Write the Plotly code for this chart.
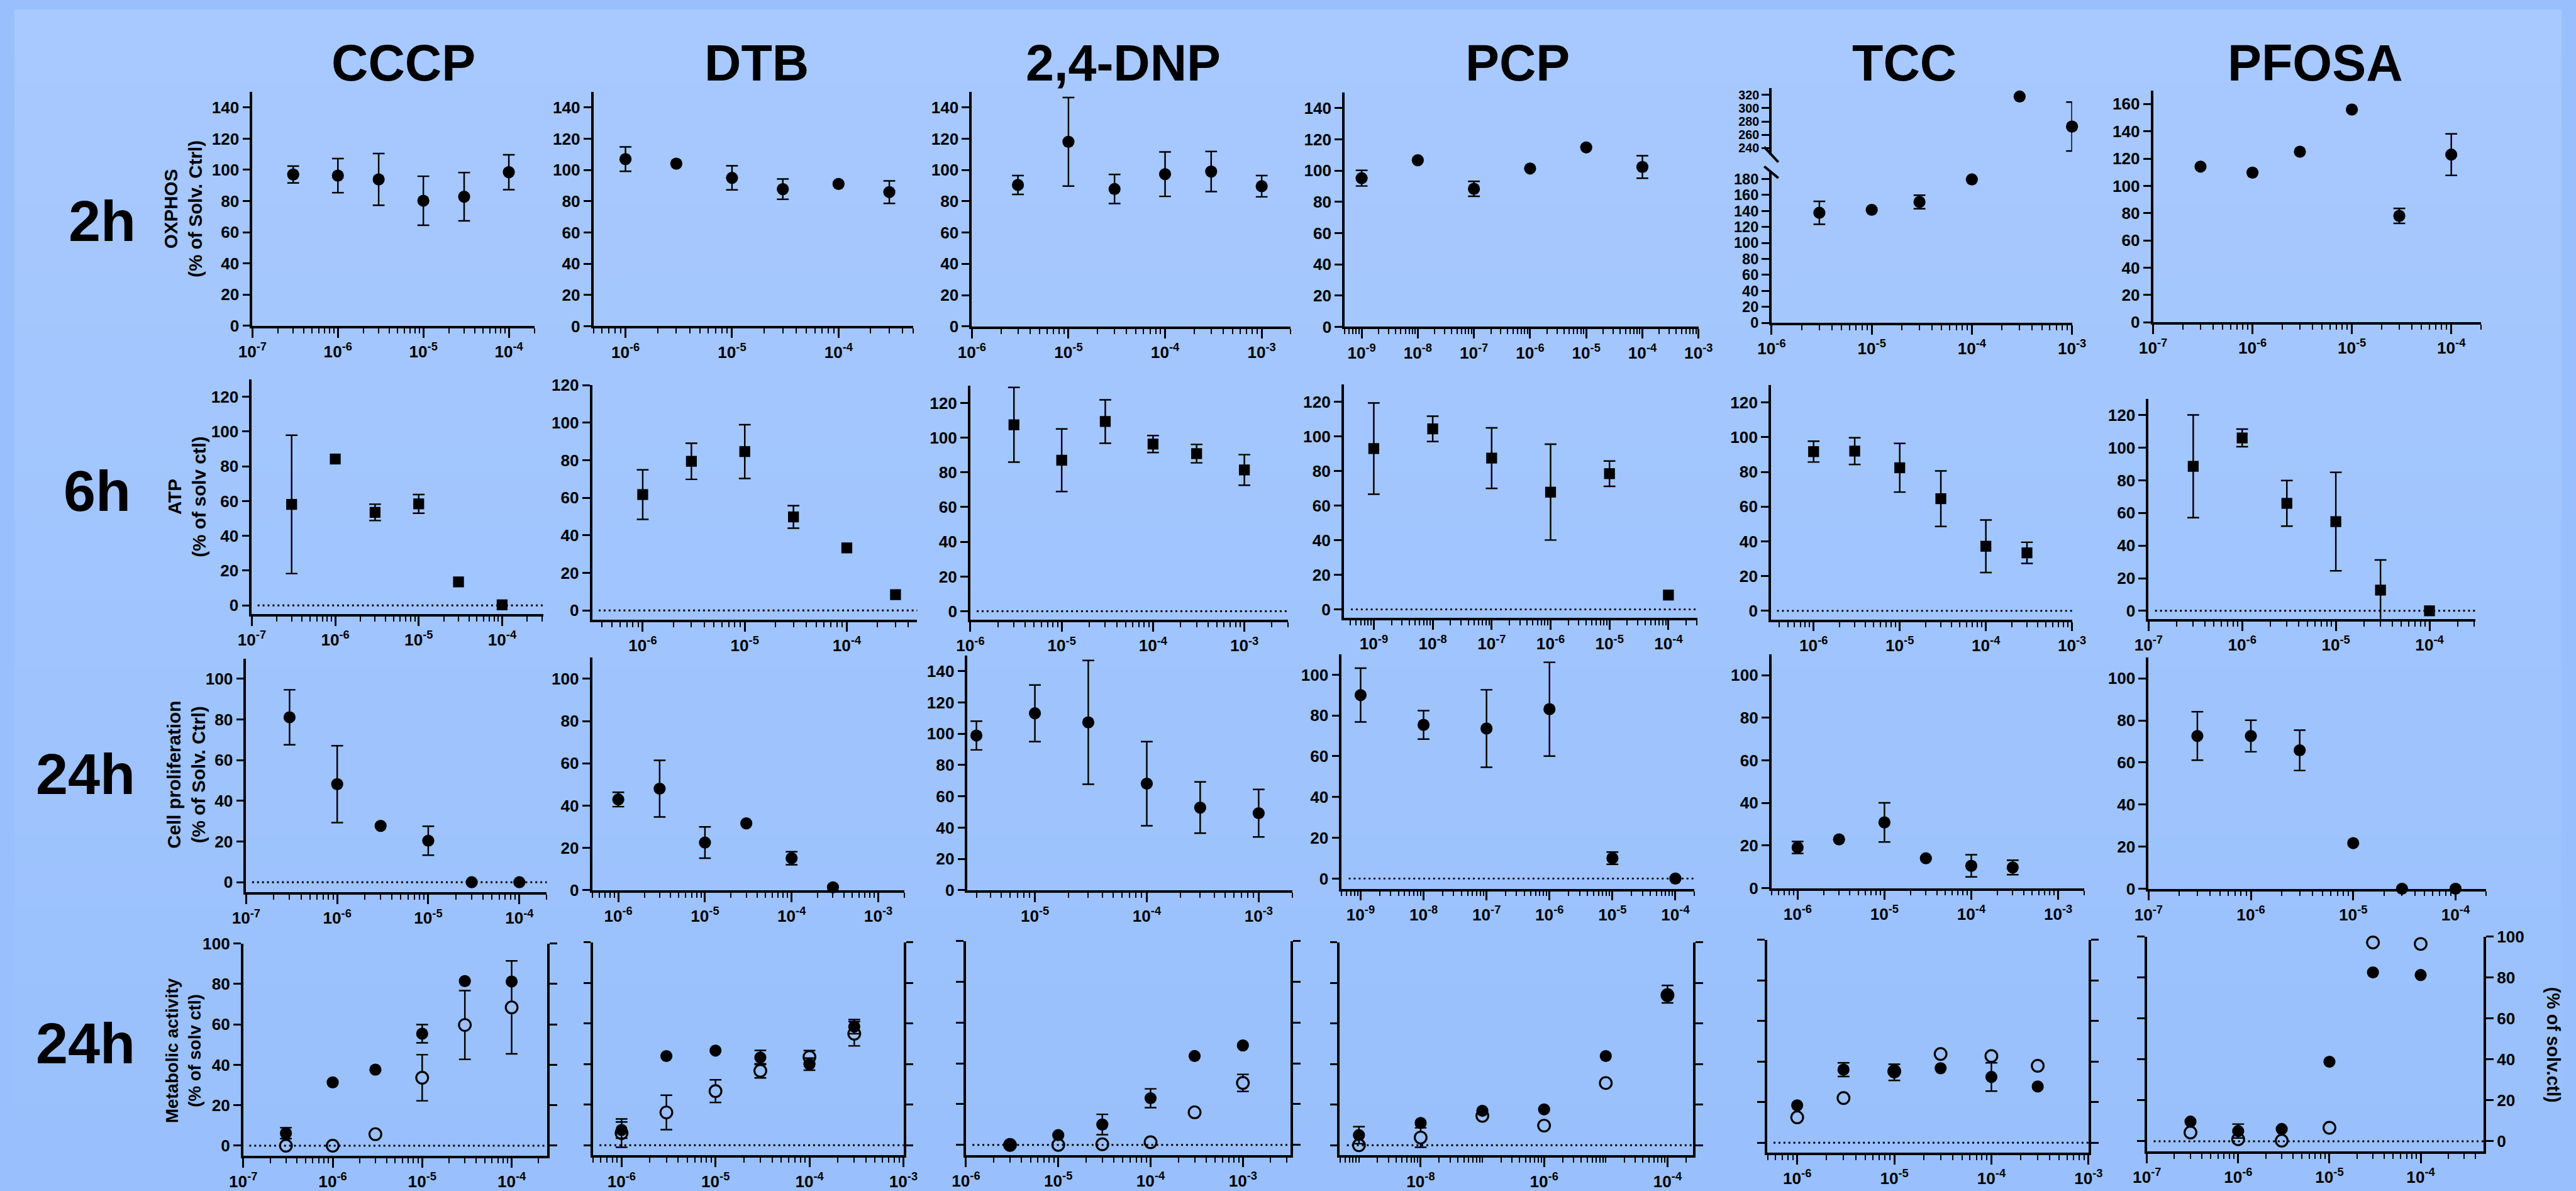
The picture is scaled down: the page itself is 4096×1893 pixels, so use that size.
import math
import plotly.graph_objects as go

W, H = 4153, 1919
S = 4096 / W
FONT = "Liberation Sans, Arial, Helvetica, sans-serif"

COMPOUNDS = ["CCCP", "DTB", "2,4-DNP", "PCP", "TCC", "PFOSA"]
ROW_LABELS = ["2h", "6h", "24h", "24h"]
Y_TITLES = ["OXPHOS<br>(% of Solv. Ctrl)", "ATP<br>(% of solv ctl)",
            "Cell proliferation<br>(% of Solv. Ctrl)", "Metabolic activity<br>(% of solv ctl)"]
RIGHT_TITLE = "(% of solv.ctl)"

C_A = [3e-7, 1e-6, 3e-6, 1e-5, 3e-5, 1e-4]
C_B = [1e-6, 3e-6, 1e-5, 3e-5, 1e-4, 3e-4]
C_C = [3e-6, 1e-5, 3e-5, 1e-4, 3e-4, 1e-3]
C_P = [1e-9, 1e-8, 1e-7, 1e-6, 1e-5, 1e-4]

# ---------------- 2h OXPHOS ----------------
OXPHOS_X = {"CCCP": C_A, "DTB": C_B, "2,4-DNP": C_C, "PCP": C_P, "TCC": C_C, "PFOSA": C_A}
OXPHOS_Y = {
    "CCCP": [97.0, 96.3, 93.9, 80.2, 82.8, 98.5],
    "DTB": [106.9, 104.0, 94.9, 87.7, 91.0, 85.8],
    "2,4-DNP": [90.4, 118.0, 87.8, 97.3, 99.0, 89.6],
    "PCP": [95.1, 106.6, 88.3, 101.3, 114.8, 102.3],
    "TCC": [137.7, 141.4, 151.3, 179.4, 317.6, 272.3],
    "PFOSA": [114.1, 109.7, 125.0, 155.9, 78.0, 122.9],
}
OXPHOS_ERR = {
    "CCCP": [5.4, 10.9, 16.6, 15.7, 15.5, 11.2],
    "DTB": [7.8, None, 7.7, 6.5, None, 7.2],
    "2,4-DNP": [6.0, 28.3, 9.3, 14.2, 12.8, 6.8],
    "PCP": [5.0, None, 4.8, None, None, 7.2],
    "TCC": [14.4, None, 8.5, None, None, 37.0],
    "PFOSA": [None, None, None, None, 5.5, 15.2],
}

# ---------------- 6h ATP ----------------
ATP_X = {"CCCP": C_A, "DTB": C_B, "2,4-DNP": C_C, "PCP": C_P, "TCC": C_B, "PFOSA": C_A}
ATP_Y = {
    "CCCP": [58.1, 84.2, 53.5, 58.4, 13.5, 0.3],
    "DTB": [61.7, 79.4, 84.6, 49.8, 33.3, 8.4],
    "2,4-DNP": [107.4, 87.0, 109.3, 96.3, 90.8, 81.4],
    "PCP": [93.0, 104.4, 87.5, 67.8, 78.5, 8.3],
    "TCC": [91.7, 92.0, 82.4, 64.6, 37.2, 33.4],
    "PFOSA": [88.6, 106.0, 65.9, 54.7, 12.7, 0.0],
}
ATP_ERR = {
    "CCCP": [39.8, None, 4.7, 5.4, None, None],
    "DTB": [13.2, 9.6, 14.3, 6.0, None, None],
    "2,4-DNP": [21.5, 18.0, 12.5, 4.9, 5.3, 8.8],
    "PCP": [26.4, 7.3, 17.5, 27.7, 7.3, None],
    "TCC": [6.0, 7.7, 14.0, 16.0, 15.1, 6.1],
    "PFOSA": [31.5, 5.4, 14.0, 30.2, 18.5, None],
}

# ---------------- 24h cell proliferation ----------------
PROLIF_X = {"CCCP": C_A, "DTB": C_B, "2,4-DNP": C_C, "PCP": C_P, "TCC": C_B, "PFOSA": C_A}
PROLIF_Y = {
    "CCCP": [81.1, 48.2, 27.7, 20.4, 0.0, 0.0],
    "DTB": [42.9, 48.0, 22.5, 31.6, 15.1, 1.3],
    "2,4-DNP": [98.9, 113.1, 107.3, 68.1, 52.8, 49.2],
    "PCP": [90.0, 75.4, 73.6, 83.1, 10.0, 0.0],
    "TCC": [19.1, 22.9, 30.9, 14.0, 10.5, 9.7],
    "PFOSA": [72.6, 72.6, 65.8, 21.7, 0.0, 0.0],
}
PROLIF_ERR = {
    "CCCP": [13.5, 18.9, None, 7.1, None, None],
    "DTB": [3.4, 13.4, 7.4, None, 3.1, None],
    "2,4-DNP": [9.2, 18.1, 39.6, 26.9, 16.4, 15.2],
    "PCP": [13.2, 7.0, 19.0, 23.0, 3.0, None],
    "TCC": [2.8, None, 9.2, None, 5.2, 3.4],
    "PFOSA": [11.5, 7.5, 9.6, None, None, None],
}

# ---------------- 24h metabolic activity (filled / open) ----------------
META_X = {"CCCP": C_A, "DTB": C_B, "2,4-DNP": C_C, "PCP": C_P, "TCC": C_B, "PFOSA": C_A}
META_FILLED_Y = {
    "CCCP": [6.2, 31.3, 37.6, 55.4, 81.4, 81.2],
    "DTB": [7.5, 44.0, 46.7, 43.3, 40.0, 58.5],
    "2,4-DNP": [0.0, 4.8, 10.0, 22.9, 43.6, 48.8],
    "PCP": [5.0, 11.0, 17.0, 17.7, 44.0, 74.5],
    "TCC": [18.4, 36.0, 34.7, 36.7, 32.4, 27.7],
    "PFOSA": [9.6, 5.0, 6.0, 38.9, 82.6, 81.3],
}
META_FILLED_ERR = {
    "CCCP": [2.7, None, None, 4.5, None, None],
    "DTB": [4.0, None, None, 3.5, 3.0, 3.5],
    "2,4-DNP": [None, None, 5.0, 4.6, None, None],
    "PCP": [4.2, None, None, None, None, 4.3],
    "TCC": [None, 3.4, 4.0, None, 7.0, None],
    "PFOSA": [None, 3.4, None, None, None, None],
}
META_OPEN_Y = {
    "CCCP": [0.0, 0.0, 5.7, 33.6, 59.7, 68.4],
    "DTB": [6.0, 16.2, 26.7, 36.7, 43.5, 55.0],
    "2,4-DNP": [0.0, 0.0, 0.3, 1.3, 16.0, 30.4],
    "PCP": [0.0, 3.8, 14.5, 9.7, 30.7, 74.0],
    "TCC": [12.5, 22.0, 35.2, 43.7, 42.7, 37.9],
    "PFOSA": [4.3, 1.0, 0.3, 6.6, 97.2, 96.5],
}
META_OPEN_ERR = {
    "CCCP": [None, None, None, 11.4, 17.0, 23.0],
    "DTB": [7.0, 8.5, 5.6, 3.5, 3.2, 6.0],
    "2,4-DNP": [None, None, None, None, None, 4.2],
    "PCP": [None, 4.8, None, None, None, None],
    "TCC": [None, None, None, None, None, None],
    "PFOSA": [None, None, None, None, None, None],
}

# ---------------- axis ticks ----------------
Y140 = [0, 20, 40, 60, 80, 100, 120, 140]
Y120 = [0, 20, 40, 60, 80, 100, 120]
Y100 = [0, 20, 40, 60, 80, 100]
Y160 = [0, 20, 40, 60, 80, 100, 120, 140, 160]
Y180 = [0, 20, 40, 60, 80, 100, 120, 140, 160, 180]
Y_TCC_UP = [240, 260, 280, 300, 320]

ROW_XT = [
    [[-7, -6, -5, -4], [-6, -5, -4], [-6, -5, -4, -3], [-9, -8, -7, -6, -5, -4, -3], [-6, -5, -4, -3], [-7, -6, -5, -4]],
    [[-7, -6, -5, -4], [-6, -5, -4], [-6, -5, -4, -3], [-9, -8, -7, -6, -5, -4], [-6, -5, -4, -3], [-7, -6, -5, -4]],
    [[-7, -6, -5, -4], [-6, -5, -4, -3], [-5, -4, -3], [-9, -8, -7, -6, -5, -4], [-6, -5, -4, -3], [-7, -6, -5, -4]],
    [[-7, -6, -5, -4], [-6, -5, -4, -3], [-6, -5, -4, -3], [-8, -6, -4], [-6, -5, -4, -3], [-7, -6, -5, -4]],
]
ROW_YT = [
    [Y140, Y140, Y140, Y140, Y180, Y160],
    [Y120] * 6,
    [Y100, Y100, Y140, Y100, Y100, Y100],
    [Y100] * 6,
]

# ---------------- layout geometry (reference pixels: left, right, bottom, top) ----------------
ROW_BOX = [
    [(388, 848, 520, 135.4), (944, 1465, 520.5, 135.3), (1561, 2081, 520.9, 135.2),
     (2169, 2746, 521.6, 136.3), (2865, 3355, 515, 265.5), (3487, 4022, 514.2, 132.9)],
    [(387, 862, 993.6, 608), (942, 1472, 1003.1, 617.3), (1558.6, 2076.4, 1003.3, 618.1),
     (2167.5, 2744, 1000.2, 616.5), (2864, 3355, 1002.6, 617.4), (3479.6, 4012.7, 1001.7, 639.9)],
    [(377.7, 867.9, 1451, 1066.6), (942, 1451, 1447.3, 1065.3), (1554, 2083.6, 1447.3, 1061.9),
     (2164, 2739, 1445, 1059.8), (2864.8, 3374.8, 1444, 1059.3), (3479.6, 4030.4, 1445, 1064.7)],
    [(373, 868.7, 1883.9, 1535), (943.75, 1449.6, 1883.3, 1533.3), (1551.4, 2081, 1882.75, 1531),
     (2161, 2737, 1883.3, 1533.3), (2857.7, 3381.9, 1879, 1529), (3477, 4026, 1876.8, 1524)],
]
ROW_XR = [
    [(1e-7, 2e-4), (5e-7, 5e-4), (1e-6, 2e-3), (5e-10, 1.003e-3), (1e-6, 1.003e-3), (1e-7, 2e-4)],
    [(1e-7, 3.1e-4), (3.2e-7, 4.9e-4), (1e-6, 3e-3), (3.1e-10, 3.1e-4), (3.2e-7, 1.003e-3), (1e-7, 3.1e-4)],
    [(1e-7, 2e-4), (5e-7, 2e-3), (2.5e-6, 2e-3), (5e-10, 2e-4), (5e-7, 2e-3), (1e-7, 2e-4)],
    [(1e-7, 2.5e-4), (5e-7, 1.003e-3), (1e-6, 3.3e-3), (4.9e-10, 2.6e-4), (4.9e-7, 1.003e-3), (1e-7, 4.9e-4)],
]
ROW_YR = [
    [(0, 150), (0, 150), (0, 150), (0, 150), (0, 190), (0, 170)],
    [(-5, 130), (-5, 120), (-5, 130), (-5, 130), (-5, 130), (-5, 130)],
    [(-5, 110), (0, 110), (0, 150), (-5, 110), (0, 110), (0, 110)],
    [(-5, 100)] * 6,
]
TCC_UP_BOX = (238.4, 129.7)
TCC_UP_YR = (230, 330)
DOTTED = [[False] * 6, [True] * 6, [True, False, False, True, False, False], [True] * 6]

COL_TITLE_X = [634, 1210, 1808, 2451, 3081, 3752]
COL_TITLE_Y = 88
ROW_LABEL_POS = [(143, 347), (135, 791), (116, 1256), (116, 1699)]
Y_TITLE_POS = [(274.5, 328), (281, 801), (280, 1258), (276, 1711)]
RIGHT_TITLE_POS = (4140, 1702)

BG_TOP = (168, 201, 255)
BG_BOTTOM = (153, 192, 252)


def bg_at(py):
    t = py / H
    return "rgb(%d,%d,%d)" % tuple(round(a + (b - a) * t) for a, b in zip(BG_TOP, BG_BOTTOM))


def ax_id(n):
    return "" if n == 1 else str(n)


def minor_vals(xr, majors):
    lo, hi = math.log10(xr[0]) - 1e-9, math.log10(xr[1]) + 1e-9
    out = []
    for k in range(math.floor(lo), math.ceil(hi) + 1):
        for m in range(1, 10):
            v = m * 10.0 ** k
            if lo <= math.log10(v) <= hi and not (m == 1 and k in majors):
                out.append(v)
    return out


TICKFONT = dict(family=FONT, size=26.5 * S, color="black", weight="bold")
LW = 4 * S

layout = dict(
    width=4096, height=1893, autosize=False,
    margin=dict(l=0, r=0, t=0, b=0, pad=0),
    paper_bgcolor=bg_at(H), plot_bgcolor="rgba(0,0,0,0)",
    showlegend=False,
)
shapes = []
annotations = []
traces = []

# background gradient
NB = 48
for i in range(NB):
    shapes.append(dict(type="rect", xref="paper", yref="paper", x0=0, x1=1,
                       y0=max(0, 1 - (i + 1) / NB - 0.002), y1=1 - i / NB,
                       fillcolor=bg_at((i + 0.5) / NB * H), line=dict(width=0), layer="below"))


def x_axis(n, box, xr, majors):
    L, R, B, T = box
    return dict(
        type="log", range=[math.log10(xr[0]), math.log10(xr[1])], domain=[L / W, R / W],
        anchor="y" + ax_id(n), showline=True, linecolor="black", linewidth=LW,
        ticks="outside", ticklen=15 * S, tickwidth=3.5 * S, tickcolor="black",
        tickmode="array", tickvals=[10.0 ** k for k in majors],
        ticktext=["10<sup>%d</sup>" % k for k in majors],
        tickfont=TICKFONT, showgrid=False, zeroline=False,
        minor=dict(tickmode="array", tickvals=minor_vals(xr, majors), ticks="outside",
                   ticklen=8 * S, tickwidth=2.5 * S, tickcolor="black", showgrid=False),
    )


def y_axis(n, box, yr, ticks, labels=True, mirror=False, dom=None, fsize=None):
    L, R, B, T = box
    tf = dict(TICKFONT)
    if fsize:
        tf["size"] = fsize * S
    d = dict(
        range=list(yr), domain=dom if dom else [1 - B / H, 1 - T / H],
        anchor="x" + ax_id(n), showline=True, linecolor="black", linewidth=LW,
        ticks="outside", ticklen=12 * S, tickwidth=3.5 * S, tickcolor="black",
        tickmode="array", tickvals=ticks, showticklabels=labels,
        tickfont=tf, showgrid=False, zeroline=False,
    )
    if mirror:
        d["mirror"] = "ticks"
    return d


def add_series(n, xs, ys, errs, symbol, open_marker=False, fillcol=None, yaxis_n=None):
    xa = "x" + ax_id(n)
    ya = "y" + ax_id(yaxis_n if yaxis_n else n)
    ex = [x for x, e in zip(xs, errs) if e is not None]
    ey = [y for y, e in zip(ys, errs) if e is not None]
    ee = [e for e in errs if e is not None]
    if ee:
        traces.append(go.Scatter(
            x=ex, y=ey, xaxis=xa, yaxis=ya, mode="markers", cliponaxis=False,
            marker=dict(size=2, color="rgba(0,0,0,0)"), hoverinfo="skip",
            error_y=dict(type="data", array=ee, visible=True, color="black",
                         thickness=2.5 * S, width=9.5 * S)))
    if open_marker:
        marker = dict(symbol="circle", size=19 * S, color=fillcol,
                      line=dict(color="black", width=3.2 * S))
    else:
        size = 17.5 * S if symbol == "square" else 19.5 * S
        marker = dict(symbol=symbol, size=size, color="black", line=dict(width=0))
    traces.append(go.Scatter(x=xs, y=ys, xaxis=xa, yaxis=ya, mode="markers",
                             cliponaxis=False, marker=marker))


ROW_DATA = [(OXPHOS_X, OXPHOS_Y, OXPHOS_ERR, "circle"),
            (ATP_X, ATP_Y, ATP_ERR, "square"),
            (PROLIF_X, PROLIF_Y, PROLIF_ERR, "circle"),
            None]

n = 0
for r in range(4):
    for c, comp in enumerate(COMPOUNDS):
        n += 1
        box = ROW_BOX[r][c]
        xr = ROW_XR[r][c]
        yr = ROW_YR[r][c]
        layout["xaxis" + ax_id(n)] = x_axis(n, box, xr, ROW_XT[r][c])
        if r < 3:
            layout["yaxis" + ax_id(n)] = y_axis(n, box, yr, ROW_YT[r][c],
                                                fsize=(24 if (r == 0 and comp == "TCC") else None))
        else:
            layout["yaxis" + ax_id(n)] = y_axis(n, box, yr, ROW_YT[r][c],
                                                labels=(c == 0), mirror=(c < 5))
        if DOTTED[r][c]:
            shapes.append(dict(type="line", xref="x%s domain" % ax_id(n), yref="y" + ax_id(n),
                               x0=0.02, x1=1.0, y0=0, y1=0,
                               line=dict(color="black", width=3 * S, dash="%.1fpx,%.1fpx" % (3 * S, 5 * S))))
        if r < 3:
            X, Y, E, sym = ROW_DATA[r]
            xs, ys, es = X[comp], Y[comp], E[comp]
            if r == 0 and comp == "TCC":
                lo = [i for i, v in enumerate(ys) if v < 200]
                hi = [i for i, v in enumerate(ys) if v >= 200]
                add_series(n, [xs[i] for i in lo], [ys[i] for i in lo], [es[i] for i in lo], sym)
                add_series(n, [xs[i] for i in hi], [ys[i] for i in hi], [es[i] for i in hi], sym, yaxis_n=25)
            else:
                add_series(n, xs, ys, es, sym)
        else:
            fill = bg_at((box[2] + box[3]) / 2)
            add_series(n, META_X[comp], META_OPEN_Y[comp], META_OPEN_ERR[comp], "circle",
                       open_marker=True, fillcol=fill)
            add_series(n, META_X[comp], META_FILLED_Y[comp], META_FILLED_ERR[comp], "circle")

# TCC upper segment of broken axis (panel 5)
tcc_box = ROW_BOX[0][4]
layout["yaxis25"] = y_axis(5, tcc_box, TCC_UP_YR, Y_TCC_UP,
                           dom=[1 - TCC_UP_BOX[0] / H, 1 - TCC_UP_BOX[1] / H], fsize=20)
for (x0, y0, x1, y1) in [(2853, 226, 2876, 251), (2853, 258, 2876, 277)]:
    shapes.append(dict(type="line", xref="paper", yref="paper", x0=x0 / W, x1=x1 / W,
                       y0=1 - y0 / H, y1=1 - y1 / H, line=dict(color="black", width=4 * S)))

# PFOSA metabolic: labelled right axis (needs a trace to be drawn)
layout["yaxis26"] = dict(
    range=list(ROW_YR[3][5]), overlaying="y24", side="right", anchor="x24",
    showline=True, linecolor="black", linewidth=LW, ticks="outside", ticklen=12 * S,
    tickwidth=3.5 * S, tickcolor="black", tickmode="array", tickvals=Y100,
    tickfont=TICKFONT, showgrid=False, zeroline=False)
traces.append(go.Scatter(x=[META_X["PFOSA"][0]], y=[META_OPEN_Y["PFOSA"][0]], xaxis="x24", yaxis="y26",
                         mode="markers", marker=dict(size=1, color="rgba(0,0,0,0)"), hoverinfo="skip"))

# texts
for c, comp in enumerate(COMPOUNDS):
    annotations.append(dict(text=comp, x=COL_TITLE_X[c] / W, y=1 - COL_TITLE_Y / H,
                            xref="paper", yref="paper", xanchor="center", yanchor="middle",
                            showarrow=False,
                            font=dict(family=FONT, size=82 * S, color="black", weight="bold")))
for r in range(4):
    px, py = ROW_LABEL_POS[r]
    annotations.append(dict(text=ROW_LABELS[r], x=px / W, y=1 - py / H, xref="paper", yref="paper",
                            xanchor="center", yanchor="middle", showarrow=False,
                            font=dict(family=FONT, size=93 * S, color="black", weight="bold")))
    px, py = Y_TITLE_POS[r]
    annotations.append(dict(text=Y_TITLES[r], x=px / W, y=1 - py / H, xref="paper", yref="paper",
                            xanchor="center", yanchor="middle", showarrow=False, textangle=-90,
                            font=dict(family=FONT, size=(28 if r == 3 else 30) * S,
                                      color="black", weight="bold")))
px, py = RIGHT_TITLE_POS
annotations.append(dict(text=RIGHT_TITLE, x=px / W, y=1 - py / H, xref="paper", yref="paper",
                        xanchor="center", yanchor="middle", showarrow=False, textangle=90,
                        font=dict(family=FONT, size=29 * S, color="black", weight="bold")))

layout["shapes"] = shapes
layout["annotations"] = annotations

fig = go.Figure(data=traces, layout=layout)
fig.write_html("out.html", config={"displayModeBar": False},
               post_script="document.body.style.margin='0';document.body.style.overflow='hidden';")
